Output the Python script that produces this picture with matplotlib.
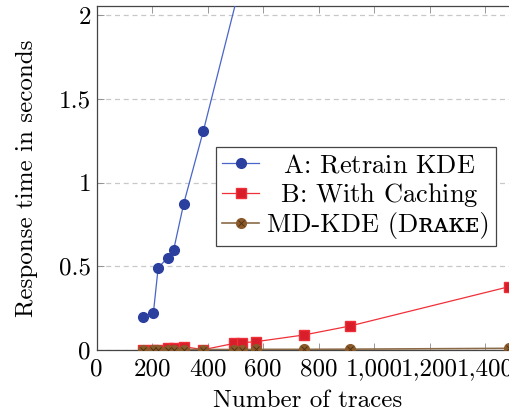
import matplotlib
matplotlib.use("Agg")
import matplotlib.pyplot as plt
from matplotlib.ticker import FuncFormatter, MultipleLocator
from matplotlib.lines import Line2D

plt.rcParams['font.family'] = ['cmr10', 'DejaVu Serif']
plt.rcParams['axes.formatter.use_mathtext'] = True
plt.rcParams['font.size'] = 18

# Data
traces = [169, 205, 222, 256, 278, 314, 385, 497, 525, 575, 748, 912, 1486]
a_traces = [169, 205, 222, 256, 278, 314, 385, 530]
a_retrain = [0.20, 0.223, 0.49, 0.551, 0.599, 0.873, 1.309, 2.26]
b_caching = [0.003, 0.003, 0.003, 0.01, 0.01, 0.02, 0.002, 0.04, 0.044, 0.05, 0.09, 0.143, 0.378]
md_kde = [0.002, 0.002, 0.002, 0.002, 0.002, 0.003, 0.003, 0.003, 0.003, 0.004, 0.004, 0.005, 0.01]

labels = ["A: Retrain KDE", "B: With Caching", "MD-KDE (D\u0280\u1d00\u1d0b\u1d07)"]
# leading indents (em) to mimic centred legend entries
indents = [0.66, 0.52, 0.0]

BLUE_L, BLUE_M = '#4a64c8', '#2b3f9e'
RED_L, RED_M = '#f03038', '#d81e2a'
BR_L, BR_M, BR_X = '#8b6a48', '#8b5a2b', '#4a2e12'

fig = plt.figure(figsize=(5.09, 4.13), dpi=100)
ax = fig.add_axes([0.1896, 0.1525, 0.829, 0.833])

ax.plot(a_traces, a_retrain, color=BLUE_L, lw=0.9, marker='o', ms=7,
        mfc=BLUE_M, mec=BLUE_M, zorder=3)
ax.plot(traces, b_caching, color=RED_L, lw=0.9, marker='s', ms=6.5,
        mfc=RED_M, mec=RED_L, zorder=3)
ax.plot(traces, md_kde, color=BR_L, lw=1.2, marker='o', ms=7,
        mfc=BR_M, mec=BR_M, zorder=4)
ax.plot(traces, md_kde, ls='none', marker='x', ms=4.5, mec=BR_X, mew=0.6, zorder=4.5)

ax.set_xlim(0, 1520)
ax.set_ylim(0, 2.054)
ax.xaxis.set_major_locator(MultipleLocator(200))
ax.yaxis.set_major_locator(MultipleLocator(0.5))
ax.xaxis.set_major_formatter(FuncFormatter(lambda v, p: f"{int(v):,}"))
ax.yaxis.set_major_formatter(FuncFormatter(lambda v, p: f"{v:g}"))
ax.tick_params(direction='in', top=True, right=True, length=5, width=0.6, color='#888888', labelsize=18)
ax.tick_params(axis='x', pad=6)
ax.tick_params(axis='y', pad=4)
ax.grid(axis='y', ls=(0, (4, 3)), color='#c8c8c8', lw=0.9)
for s in ax.spines.values():
    s.set_color('#444444')
    s.set_linewidth(0.9)

ax.set_xlabel("Number of traces", fontsize=18, labelpad=7)
ax.set_ylabel("Response time in seconds", fontsize=18, labelpad=15)

h = [Line2D([], [], color=BLUE_L, lw=0.9, marker='o', ms=7, mfc=BLUE_M, mec=BLUE_M),
     Line2D([], [], color=RED_L, lw=0.9, marker='s', ms=6.5, mfc=RED_M, mec=RED_L),
     (Line2D([], [], color=BR_L, lw=1.2, marker='o', ms=7, mfc=BR_M, mec=BR_M),
      Line2D([], [], ls='none', marker='x', ms=4.5, mec=BR_X, mew=0.6))]
leg_labels = [(rf"$\hspace{{{d}}}$" if d > 0 else "") + l for l, d in zip(labels, indents)]
leg = ax.legend(h, leg_labels, loc='upper left', bbox_to_anchor=(0.2825, 0.589), fontsize=19,
                frameon=True, fancybox=False, edgecolor='#444444', framealpha=1,
                borderpad=0.25, labelspacing=0.12, handlelength=1.4, handletextpad=0.28,
                borderaxespad=0)
leg.get_frame().set_linewidth(0.9)

fig.savefig("out.png", dpi=100)
